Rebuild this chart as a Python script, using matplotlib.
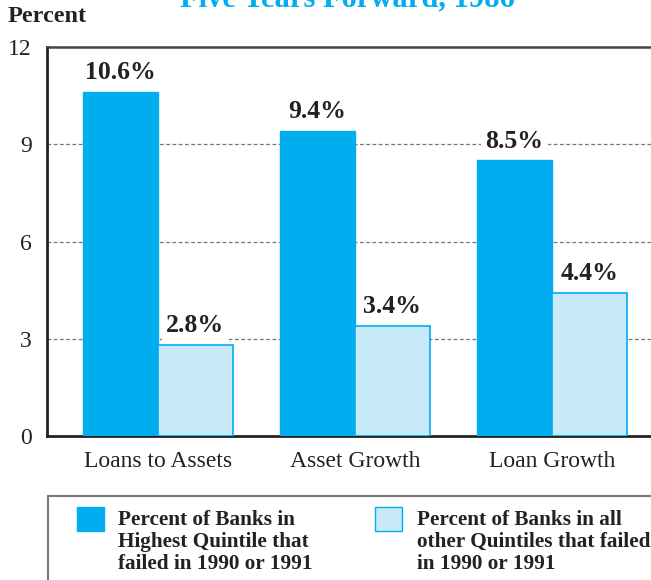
import numpy as np
import matplotlib.pyplot as plt
from matplotlib.patches import Rectangle

plt.rcParams['font.family'] = ['Liberation Serif', 'DejaVu Serif']

categories = ['Loans to Assets', 'Asset Growth', 'Loan Growth']
highest = [10.6, 9.4, 8.5]
others = [2.8, 3.4, 4.4]
yticks = [0, 3, 6, 9, 12]
legend_labels = ['Percent of Banks in\nHighest Quintile that\nfailed in 1990 or 1991',
                 'Percent of Banks in all\nother Quintiles that failed\nin 1990 or 1991']

dark = '#00aeef'
light = '#c8e9f8'

W, H = 651, 580
fig = plt.figure(figsize=(W / 100, H / 100), dpi=100)
# axes runs past the right edge like in the scan
ax = fig.add_axes([47 / W, (H - 436) / H, 653 / W, 389 / H])

x = np.arange(len(categories))
bw = 75 / 197
ax.bar(x - bw / 2, highest, bw, color=dark, edgecolor=dark, linewidth=1, zorder=3)
ax.bar(x + bw / 2, others, bw, color=light, edgecolor=dark, linewidth=1.2, zorder=3)

for i in range(len(categories)):
    ax.text(x[i] - bw / 2, highest[i] + 0.6, f'{highest[i]:.1f}%', ha='center', va='center',
            fontsize=18.5, fontweight='bold', color='#222222', zorder=4,
            bbox=dict(facecolor='white', edgecolor='none', pad=3))
    ax.text(x[i] + bw / 2, others[i] + 0.6, f'{others[i]:.1f}%', ha='center', va='center',
            fontsize=18.5, fontweight='bold', color='#222222', zorder=4,
            bbox=dict(facecolor='white', edgecolor='none', pad=3))

ax.set_xlim(-0.563, -0.563 + 653 / 197)
ax.set_ylim(0, 12)
ax.set_yticks(yticks)
ax.set_yticklabels([str(t) for t in yticks], fontsize=17, color='#222222')
ax.set_xticks(x)
ax.set_xticklabels(categories, fontsize=17, color='#222222')
ax.tick_params(axis='both', length=0)
ax.tick_params(axis='y', pad=11)
ax.tick_params(axis='x', pad=11)
for t in [3, 6, 9]:
    ax.axhline(t, color='#777777', linestyle=(0, (3, 2)), linewidth=0.9, zorder=1)

ax.spines['left'].set_linewidth(2)
ax.spines['bottom'].set_linewidth(2)
ax.spines['left'].set_color('#222222')
ax.spines['bottom'].set_color('#222222')
ax.spines['top'].set_linewidth(1.8)
ax.spines['top'].set_color('#444444')
ax.spines['right'].set_visible(False)

fig.text(8 / W, (H - 17) / H, 'Percent', fontsize=17.5, fontweight='bold', va='center', color='#222222')
fig.text(347 / W, (H - 6) / H, 'Five Years Forward, 1986', fontsize=22, fontweight='bold',
         color=dark, ha='center', va='baseline')

# legend box
fig.patches.append(Rectangle((48 / W, -0.05), 1.0, (H - 496) / H + 0.05, transform=fig.transFigure,
                             facecolor='none', edgecolor='#777777', linewidth=1.5))
fig.patches.append(Rectangle((77 / W, (H - 531) / H), 27 / W, 24 / H, transform=fig.transFigure,
                             facecolor=dark, edgecolor=dark, linewidth=1))
fig.patches.append(Rectangle((375 / W, (H - 531) / H), 27 / W, 24 / H, transform=fig.transFigure,
                             facecolor=light, edgecolor=dark, linewidth=1))
fig.text(118 / W, (H - 542) / H, legend_labels[0], fontsize=15.3, fontweight='bold', va='center',
         color='#222222', linespacing=1.12)
fig.text(417 / W, (H - 542) / H, legend_labels[1], fontsize=15.3, fontweight='bold', va='center',
         color='#222222', linespacing=1.12)

fig.savefig('out.png', dpi=100)
